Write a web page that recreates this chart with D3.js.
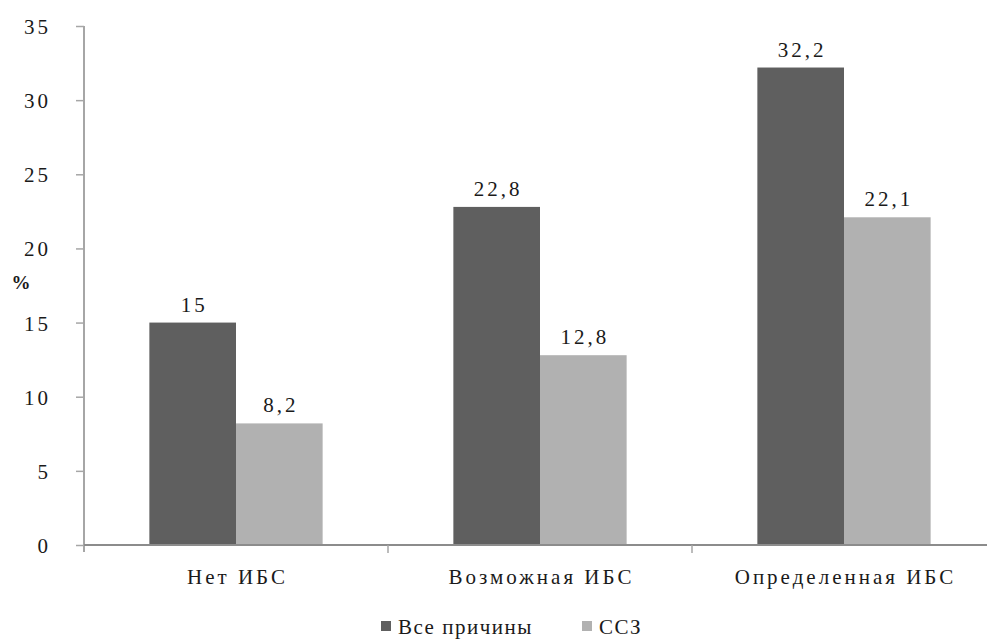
<!DOCTYPE html>
<html>
<head>
<meta charset="utf-8">
<script src="https://cdn.jsdelivr.net/npm/d3@7"></script>
<style>
  html, body { margin: 0; padding: 0; background: #fff; }
  svg { display: block; }
</style>
</head>
<body>
<svg id="chart" width="987" height="644" font-family="'Liberation Serif', 'Times New Roman', serif"></svg>
<script>
// Mortality by coronary heart disease status
const categories = ["Нет ИБС", "Возможная ИБС", "Определенная ИБС"];
const seriesNames = ["Все причины", "ССЗ"];
const allCauses = [15, 22.8, 32.2];
const cvd = [8.2, 12.8, 22.1];
const yTicks = [0, 5, 10, 15, 20, 25, 30, 35];
const colors = ["#5f5f5f", "#b1b1b1"];

const FONT = "'Liberation Serif', 'Times New Roman', serif";
const INK = "#1a1a1a";

const svg = d3.select("#chart");
const plotLeft = 84, plotRight = 996, plotTop = 26, plotBottom = 545;

const x0 = d3.scaleBand().domain(categories).range([plotLeft, plotRight])
  .paddingInner(0.43).paddingOuter(0.215);
const x1 = d3.scaleBand().domain(seriesNames).range([0, x0.bandwidth()]).padding(0);
const y = d3.scaleLinear().domain([0, 35]).range([plotBottom, plotTop]);

const fmt = v => String(v).replace(".", ",");

// bars
const rows = categories.map((c, i) => ({ c, vals: [allCauses[i], cvd[i]] }));
const g = svg.append("g").selectAll("g").data(rows).join("g")
  .attr("transform", d => `translate(${x0(d.c)},0)`);
g.selectAll("rect").data(d => d.vals.map((v, k) => ({ v, k })))
  .join("rect")
  .attr("x", d => x1(seriesNames[d.k]))
  .attr("width", x1.bandwidth())
  .attr("y", d => y(d.v))
  .attr("height", d => y(0) - y(d.v))
  .attr("fill", d => colors[d.k]);
g.selectAll("text.val").data(d => d.vals.map((v, k) => ({ v, k })))
  .join("text").attr("class", "val")
  .attr("x", d => x1(seriesNames[d.k]) + x1.bandwidth() / 2 + 1.5)
  .attr("y", d => y(d.v) - 11)
  .attr("text-anchor", "middle")
  .attr("font-family", FONT).attr("font-size", 21).attr("letter-spacing", 3)
  .attr("fill", INK)
  .text(d => fmt(d.v));

// y axis
const yAxis = svg.append("g").attr("transform", `translate(${plotLeft},0)`)
  .call(d3.axisLeft(y).tickValues(yTicks).tickSize(8).tickPadding(25).tickFormat(d => d))
  .attr("font-family", FONT).attr("font-size", 21);
yAxis.select(".domain").attr("stroke", "#a6a6a6").attr("stroke-width", 2)
  .attr("d", `M0,${plotTop}V${plotBottom + 7}`);
yAxis.selectAll(".tick line").attr("stroke", "#a6a6a6").attr("stroke-width", 1.5);
yAxis.selectAll(".tick text").attr("letter-spacing", 3).attr("fill", INK).attr("dy", "0.36em")
  .attr("font-family", FONT);

// x axis
const xAxis = svg.append("g").attr("transform", `translate(0,${plotBottom})`);
xAxis.append("line").attr("x1", plotLeft).attr("x2", 987).attr("y1", 0).attr("y2", 0)
  .attr("stroke", "#8c8c8c").attr("stroke-width", 2);
const boundaries = categories.slice(1).map(c => x0(c) - x0.step() * x0.paddingInner() / 2);
xAxis.selectAll("line.sep").data(boundaries).join("line").attr("class", "sep")
  .attr("x1", d => d).attr("x2", d => d).attr("y1", 0).attr("y2", 8)
  .attr("stroke", "#a6a6a6").attr("stroke-width", 1.5);
xAxis.selectAll("text").data(categories).join("text")
  .attr("x", d => x0(d) + x0.bandwidth() / 2 + 1.5)
  .attr("y", 39)
  .attr("text-anchor", "middle")
  .attr("font-family", FONT).attr("font-size", 21).attr("letter-spacing", 3)
  .attr("fill", INK)
  .text(d => d);

// y label
svg.append("text").attr("x", 21).attr("y", 289).attr("text-anchor", "middle")
  .attr("font-family", FONT).attr("font-size", 19).attr("font-weight", "bold")
  .attr("fill", INK).text("%");

// legend
const legend = svg.append("g").attr("transform", "translate(381,629)");
const items = [{ n: seriesNames[0], x: 0 }, { n: seriesNames[1], x: 201 }];
items.forEach((it, k) => {
  legend.append("rect").attr("x", it.x).attr("y", -8).attr("width", 10).attr("height", 10)
    .attr("fill", colors[k]);
  legend.append("text").attr("x", it.x + 17).attr("y", 5)
    .attr("font-family", FONT).attr("font-size", 21).attr("letter-spacing", 1.5)
    .attr("fill", INK).text(it.n);
});
</script>
</body>
</html>
